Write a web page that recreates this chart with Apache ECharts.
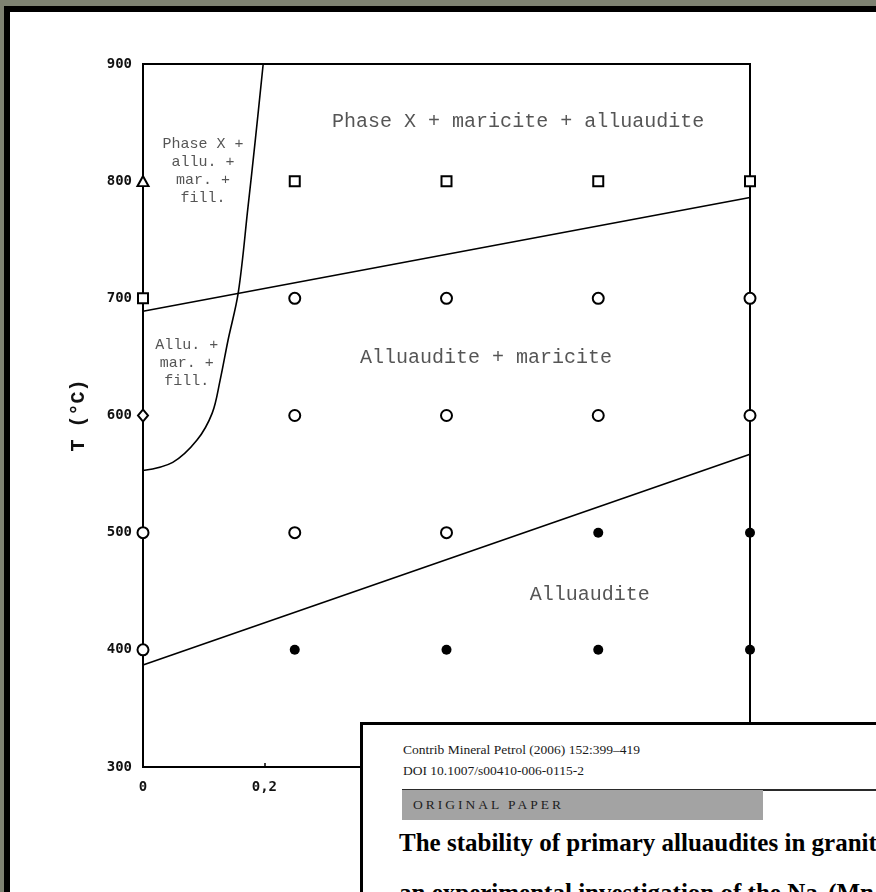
<!DOCTYPE html>
<html>
<head>
<meta charset="utf-8">
<script src="https://cdn.jsdelivr.net/npm/echarts/dist/echarts.min.js"></script>
<style>
  html, body { margin: 0; padding: 0; }
  body { width: 876px; height: 892px; overflow: hidden; position: relative; background: #7e8272; }
  #frame { position: absolute; left: 4px; top: 6px; width: 1000px; height: 1000px; background: #000; }
  #sheet { position: absolute; left: 10px; top: 12px; width: 1000px; height: 1000px; background: #fff; }
  #chart { position: absolute; left: 0; top: 0; width: 876px; height: 892px; }
  #paper { position: absolute; left: 360px; top: 722px; width: 700px; height: 400px; background: #fff;
           border: 3px solid #000; box-sizing: border-box; font-family: "Liberation Serif", "Times New Roman", serif; color: #1a1a1a; }
  #paper .ref { position: absolute; left: 40px; font-size: 13.5px; line-height: 16px; white-space: nowrap; }
  #paper .rule { position: absolute; left: 39px; top: 64px; width: 700px; height: 2px; background: #2a2a2a; }
  #paper .band { position: absolute; left: 39px; top: 65px; width: 361px; height: 30px; background: #a3a3a3; }
  #paper .band span { position: absolute; left: 11px; top: 7px; font-size: 13.5px; line-height: 16px; letter-spacing: 3px; color: #1e1e1e; }
  #paper .title { position: absolute; left: 36px; font-size: 25px; line-height: 30px; font-weight: bold; white-space: nowrap; color: #000; }
</style>
</head>
<body>
<div id="frame"></div>
<div id="sheet"></div>
<div id="chart"></div>
<div id="paper">
  <div class="ref" style="top:17px">Contrib Mineral Petrol (2006) 152:399–419</div>
  <div class="ref" style="top:38px">DOI 10.1007/s00410-006-0115-2</div>
  <div class="rule"></div>
  <div class="band"><span>ORIGINAL PAPER</span></div>
  <div class="title" style="top:103px">The stability of primary alluaudites in granitic pegmatites:</div>
  <div class="title" style="top:153px">an experimental investigation of the Na<sub>2</sub>(Mn<sub>2–2x</sub>Fe<sub>1+x</sub>)(PO<sub>4</sub>)<sub>3</sub> system</div>
</div>
<script>
// Synthesis runs: composition x (0 → 1) against temperature T (°C)
const xMin = 0, xMax = 1, xStep = 0.2;
const tMin = 300, tMax = 900, tStep = 100;

// Run products, grouped by the symbol used for each assemblage
const openTriangle = [[0, 800]];
const openSquares = [[0, 700], [0.25, 800], [0.5, 800], [0.75, 800], [1, 800]];
const openDiamond = [[0, 600]];
const openCircles = [
  [0, 500], [0, 400],
  [0.25, 700], [0.25, 600], [0.25, 500],
  [0.5, 700], [0.5, 600], [0.5, 500],
  [0.75, 700], [0.75, 600],
  [1, 700], [1, 600]
];
const filledCircles = [
  [0.25, 400], [0.5, 400],
  [0.75, 500], [0.75, 400],
  [1, 500], [1, 400]
];

// Phase boundaries
const upperBoundary = [[0, 689], [1, 786]];
const lowerBoundary = [[0, 387], [1, 567]];
const fillowiteBoundary = [
  [0, 553], [0.049, 560], [0.089, 579], [0.114, 602], [0.127, 630],
  [0.140, 664], [0.157, 705], [0.173, 778], [0.185, 835], [0.198, 900]
];

// Stability-field names and where they sit (x, T)
const fieldNames = [
  'Phase X + maricite + alluaudite',
  'Phase X +\nallu. +\nmar. +\nfill.',
  'Allu. +\nmar. +\nfill.',
  'Alluaudite + maricite',
  'Alluaudite'
];
const fieldAnchors = [[0.618, 851], [0.099, 809], [0.072, 645], [0.565, 649], [0.736, 447]];
const fieldSmall = [false, true, true, false, false];

const chart = echarts.init(document.getElementById('chart'), null, { renderer: 'canvas' });

const axisFont = { fontFamily: 'DejaVu Sans Mono', fontWeight: 'bold', fontSize: 14, color: '#111' };
const openStyle = { color: '#fff', borderColor: '#000', borderWidth: 2, opacity: 1 };

function boundary(data, smooth) {
  return {
    type: 'line', data, smooth, showSymbol: false, silent: true, clip: true, z: 2,
    lineStyle: { color: '#000', width: 1.6 }
  };
}
function runs(data, symbol, size, style) {
  return { type: 'scatter', data, symbol, symbolSize: size, itemStyle: style, silent: true, z: 4, clip: false };
}

chart.setOption({
  backgroundColor: 'transparent',
  animation: false,
  grid: { left: 143, right: 126, top: 64, bottom: 125, show: true, borderColor: '#000', borderWidth: 2, backgroundColor: 'transparent' },
  xAxis: {
    type: 'value', min: xMin, max: xMax, interval: xStep,
    axisLine: { show: false },
    splitLine: { show: false },
    axisTick: { show: true, inside: true, length: 4, lineStyle: { color: '#000', width: 1.5 } },
    axisLabel: Object.assign({ margin: 13, formatter: v => String(v).replace('.', ',') }, axisFont)
  },
  yAxis: {
    type: 'value', min: tMin, max: tMax, interval: tStep,
    name: 'T (°C)', nameLocation: 'middle', nameRotate: 90, nameGap: 54,
    nameTextStyle: { fontFamily: 'Liberation Mono', fontWeight: 'bold', fontSize: 20, color: '#111' },
    axisLine: { show: false },
    splitLine: { show: false },
    axisTick: { show: false },
    axisLabel: Object.assign({ margin: 11 }, axisFont)
  },
  series: [
    boundary(upperBoundary, false),
    boundary(lowerBoundary, false),
    boundary(fillowiteBoundary, 0.35),
    runs(openTriangle, 'triangle', [11, 10], openStyle),
    runs(openSquares, 'rect', 10, openStyle),
    runs(openDiamond, 'diamond', [10, 12], openStyle),
    runs(openCircles, 'circle', 11, openStyle),
    runs(filledCircles, 'circle', 10, { color: '#000', opacity: 1 }),
    {
      type: 'scatter', silent: true, z: 5, symbolSize: 0,
      data: fieldNames.map((name, i) => ({
        name, value: fieldAnchors[i],
        label: { fontSize: fieldSmall[i] ? 15 : 20, lineHeight: fieldSmall[i] ? 18 : 24 }
      })),
      label: {
        show: true, position: 'inside', formatter: p => p.name,
        fontFamily: 'Liberation Mono', color: '#2a2a2a', align: 'center', verticalAlign: 'middle'
      }
    }
  ]
});
</script>
</body>
</html>
